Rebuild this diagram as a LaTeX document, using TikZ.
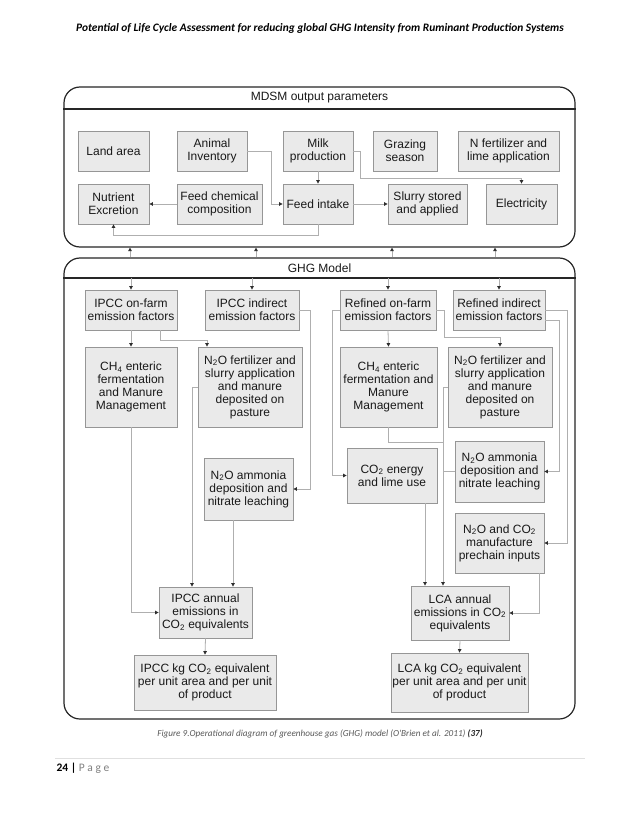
\documentclass[tikz,border=0pt]{standalone}
\usepackage{fontspec}
\setmainfont{Liberation Sans}
\newfontfamily\calib{Carlito}
\usetikzlibrary{arrows.meta}
\definecolor{boxfill}{RGB}{234,234,234}
\definecolor{boxline}{RGB}{150,150,150}
\definecolor{connc}{RGB}{175,175,175}
\definecolor{tipc}{RGB}{45,45,45}
\definecolor{txt}{RGB}{25,25,25}
\newcommand\mybox[6]{\node[gbox, minimum width={(#4-#2)*1pt}, minimum height={(#5-#3)*1pt}] (#1) at ({(#2+#4)/2},{(#3+#5)/2}) {#6};}
\newcommand\subs[1]{\textsubscript{#1}}
\begin{document}
\begin{tikzpicture}[x=1pt,y=-1pt,
  gbox/.style={draw=boxline, fill=boxfill, line width=0.8pt, inner sep=1pt, align=center, text=txt, font=\fontsize{12}{13}\selectfont},
  outer/.style={draw=black!85, line width=1.2pt, rounded corners=16pt},
  conn/.style={draw=connc, line width=0.8pt, -{Triangle[length=3.5pt,width=3.5pt,color=tipc]}},
  plainconn/.style={draw=connc, line width=0.8pt},
  ttl/.style={font=\fontsize{12}{13}\selectfont, text=txt}]
\useasboundingbox (0,0) rectangle (638,826);
\fill[white] (0,0) rectangle (638,826);

% page header / caption / footer
\node[font=\calib\bfseries\itshape\fontsize{11.4}{13}\selectfont] (pghead) at (320,28) {Potential of Life Cycle Assessment for reducing global GHG Intensity from Ruminant Production Systems};
\node[font=\calib\itshape\fontsize{9.2}{11}\selectfont, text=black!65] (cap) at (320,734) {Figure 9.Operational diagram of greenhouse gas (GHG) model (O'Brien et al. 2011) \textcolor{black!85}{\bfseries(37)}};
\draw[draw=black!12, line width=0.8pt] (55,758) -- (585,758);
\node[anchor=west, font=\calib\fontsize{11.5}{13}\selectfont] (foot) at (53,768) {\textbf{24 |} \textcolor{black!50}{P a g e}};

% outer frames
\node[outer, minimum width=511pt, minimum height=160pt] (mdsm) at (319.5,167) {};
\draw[draw=black!85, line width=1.2pt] (mdsm.west |- 0,109) -- (mdsm.east |- 0,109);
\node[ttl] (mdsmt) at (319.5,98) {MDSM output parameters};
\node[outer, minimum width=511pt, minimum height=461pt] (ghg) at (319.5,488.5) {};
\draw[draw=black!85, line width=1.2pt] (ghg.west |- 0,278) -- (ghg.east |- 0,278);
\coordinate (hdr) at (0,278);
\node[ttl] (ghgt) at (319.5,268) {GHG Model};

% MDSM boxes
\mybox{land}{78}{131}{149}{171}{Land area}
\mybox{anim}{177}{131}{247}{171}{Animal\\Inventory}
\mybox{milk}{283}{131}{353}{171}{Milk\\production}
\mybox{graz}{373}{131}{437}{171}{Grazing\\season}
\mybox{nfert}{458}{131}{559}{171}{N fertilizer and\\lime application}
\mybox{nutr}{78}{184}{149}{224}{Nutrient\\Excretion}
\mybox{feedc}{177}{184}{262}{224}{Feed chemical\\composition}
\mybox{feedi}{283}{184}{353}{224}{Feed intake}
\mybox{slurry}{388}{184}{467}{224}{Slurry stored\\and applied}
\mybox{elec}{486}{184}{557}{224}{Electricity}

\draw[conn] (anim.east) -- ++(24,0) |- (feedi.west);
\draw[conn] (milk.south) -- (feedi.north);
\draw[conn] (milk.east) -- ++(7,0) -- ++(0,27) -| (elec.north);
\draw[conn] (feedc.west) -- (nutr.east);
\draw[conn] (feedi.east) -- (slurry.west);
\draw[conn] (feedi.south) -- ++(0,11) -| (nutr.south);

% arrows between frames
\foreach \xx in {130,256,392,495}
  \draw[conn] (ghg.north -| \xx,0) -- (mdsm.south -| \xx,0);

% GHG left
\mybox{ipof}{85}{290}{177}{330}{IPCC on-farm\\emission factors}
\mybox{ipind}{205}{290}{299}{330}{IPCC indirect\\emission factors}
\mybox{ch4a}{85}{347}{177}{427}{CH\subs{4} enteric\\fermentation\\and Manure\\Management}
\mybox{n2oa}{198}{347}{302}{427}{N\subs{2}O fertilizer and\\slurry application\\and manure\\deposited on\\pasture}
\mybox{amma}{204}{458}{293}{520}{N\subs{2}O ammonia\\deposition and\\nitrate leaching}
\mybox{ipann}{159}{587}{252}{638}{IPCC annual\\emissions in\\CO\subs{2} equivalents}
\mybox{ipkg}{134}{655}{276}{710}{IPCC kg CO\subs{2} equivalent\\per unit area and per unit\\of product}

% GHG right
\mybox{rof}{340}{290}{436}{330}{Refined on-farm\\emission factors}
\mybox{rind}{453}{290}{545}{330}{Refined indirect\\emission factors}
\mybox{ch4b}{340}{347}{437}{427}{CH\subs{4} enteric\\fermentation and\\Manure\\Management}
\mybox{n2ob}{448}{347}{552}{427}{N\subs{2}O fertilizer and\\slurry application\\and manure\\deposited on\\pasture}
\mybox{ammb}{455}{441}{544}{502}{N\subs{2}O ammonia\\deposition and\\nitrate leaching}
\mybox{co2e}{347}{448}{437}{503}{CO\subs{2} energy\\and lime use}
\mybox{pre}{455}{513}{544}{573}{N\subs{2}O and CO\subs{2}\\manufacture\\prechain inputs}
\mybox{lcaann}{411}{586}{509}{640}{LCA annual\\emissions in CO\subs{2}\\equivalents}
\mybox{lcakg}{391}{653}{528}{712}{LCA kg CO\subs{2} equivalent\\per unit area and per unit\\of product}

% header arrows in GHG frame
\foreach \b in {ipof,ipind,rof,rind}
  \draw[conn] (\b.north |- hdr) -- (\b.north);

% left connectors
\draw[conn] (ipof.south) -- (ch4a.north);
\draw[conn] ([xshift=29pt]ipof.south) -- ++(0,10) -| ([xshift=-43pt]n2oa.north);
\draw[conn] (ipind.east) -- ++(11,0) |- (amma.east);
\draw[conn] (ch4a.south) |- (ipann.west);
\draw[conn] (n2oa.west) -| ([xshift=-13.5pt]ipann.north);
\draw[conn] ([xshift=-15.5pt]amma.south) -- ([xshift=-15.5pt]amma.south |- ipann.north);
\draw[conn] (ipann.south) -- (ipkg.north);

% right connectors
\draw[conn] (rof.south) -- (ch4b.north);
\draw[conn] (rof.east) -- ++(8,0) -- ++(0,27) -| (n2ob.north);
\draw[conn] (rof.west) -- ++(-7,0) |- (co2e.west);
\draw[conn] (rind.east) -- ++(22,0) |- (pre.east);
\draw[conn] ([yshift=-10pt]rind.east) -- ++(14,0) |- (ammb.east);
\coordinate (jn) at (443,442);
\draw[conn] (n2ob.west) -| ([xshift=-17pt]lcaann.north);
\draw[plainconn] (ch4b.south) |- (jn);
\draw[plainconn] (ammb.west) -- (ammb.west -| jn);
\draw[conn] ([xshift=33pt]co2e.south) -- ([xshift=33pt]co2e.south |- lcaann.north);
\draw[conn] ([xshift=39.5pt]pre.south) |- (lcaann.east);
\draw[conn] (lcaann.south) -- (lcakg.north);
\end{tikzpicture}
\end{document}
